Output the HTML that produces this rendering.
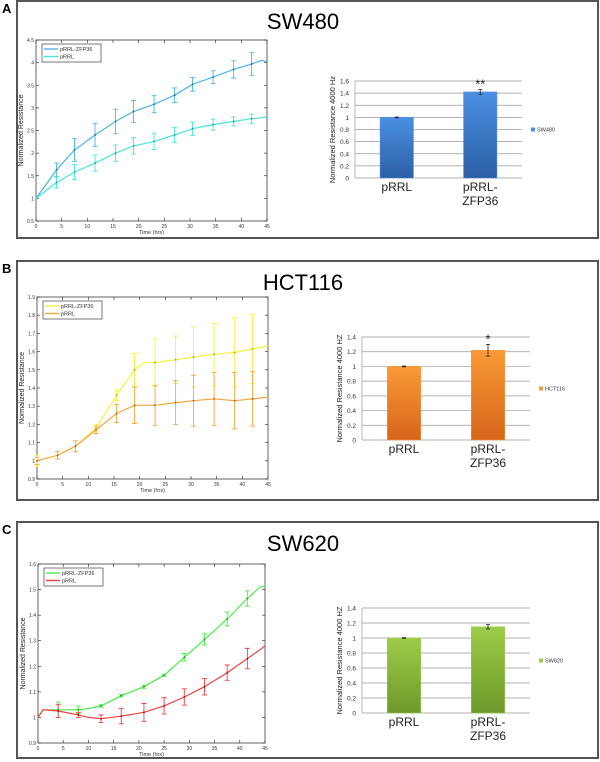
<!DOCTYPE html>
<html><head><meta charset="utf-8"><style>
html,body{margin:0;padding:0;background:#fff;}
svg{display:block;font-family:"Liberation Sans",Arial,sans-serif;}
</style></head><body>
<svg id="fig" width="600" height="762" viewBox="0 0 600 762" xmlns="http://www.w3.org/2000/svg"></svg>
<script>
// ---- Panel A data ----
const aTimes = [0,4,7.5,11.5,15.5,19,23,27,30.5,34.5,38.5,42,44,45];
const aZfp   = [1,1.63,2.07,2.4,2.7,2.92,3.08,3.28,3.52,3.68,3.85,3.97,4.05,4.02];
const aRrl   = [1,1.35,1.58,1.78,2.0,2.16,2.26,2.4,2.54,2.63,2.7,2.76,2.78,2.8];
const aErrT  = [4,7.5,11.5,15.5,19,23,27,30.5,34.5,38.5,42];
const aZfpErrV = [1.63,2.07,2.4,2.7,2.92,3.08,3.28,3.52,3.68,3.85,3.97];
const aZfpErr  = [0.15,0.25,0.25,0.27,0.24,0.19,0.16,0.15,0.14,0.19,0.25];
const aRrlErrV = [1.35,1.58,1.78,2.0,2.16,2.26,2.4,2.54,2.63,2.7,2.76];
const aRrlErr  = [0.12,0.17,0.18,0.18,0.18,0.18,0.17,0.15,0.12,0.1,0.1];
const aYTicks = [0.5,1,1.5,2,2.5,3,3.5,4,4.5];
// ---- Panel B data ----
const bTimes = [0,4,7.5,11.5,15.5,19,21,23,27,30.5,34.5,38.5,42,45];
const bZfp   = [1,1.03,1.08,1.18,1.36,1.5,1.54,1.54,1.555,1.57,1.585,1.595,1.615,1.63];
const bRrl   = [1,1.03,1.08,1.17,1.26,1.305,1.305,1.305,1.32,1.33,1.34,1.33,1.34,1.35];
const bErrT  = [0,4,7.5,11.5,15.5,19,23,27,30.5,34.5,38.5,42];
const bZfpErrV = [1,1.03,1.08,1.18,1.36,1.5,1.54,1.555,1.57,1.585,1.595,1.615];
const bZfpErr  = [0.03,0.02,0.03,0.02,0.03,0.09,0.13,0.13,0.165,0.17,0.19,0.19];
const bRrlErrV = [1,1.03,1.08,1.17,1.26,1.305,1.305,1.32,1.33,1.34,1.33,1.34];
const bRrlErr  = [0.02,0.02,0.03,0.02,0.05,0.1,0.11,0.12,0.14,0.145,0.155,0.15];
const bYTicks = [0.9,1,1.1,1.2,1.3,1.4,1.5,1.6,1.7,1.8,1.9];
// ---- Panel C data ----
const cTimes = [0,1,4,8,10,12.5,16.5,21,25,29,33,37.5,41.5,44,45];
const cZfp   = [1,1.03,1.03,1.03,1.035,1.045,1.085,1.12,1.165,1.235,1.305,1.385,1.465,1.51,1.515];
const cRrl   = [1,1.03,1.025,1.01,1.0,0.995,1.005,1.02,1.045,1.08,1.12,1.175,1.23,1.265,1.28];
const cErrT  = [4,8,12.5,16.5,21,25,29,33,37.5,41.5];
const cZfpErrV = [1.03,1.03,1.045,1.085,1.12,1.165,1.235,1.305,1.385,1.465];
const cZfpErr  = [0.03,0.015,0.005,0.005,0.006,0.004,0.015,0.022,0.027,0.03];
const cRrlErrV = [1.025,1.01,0.995,1.005,1.02,1.045,1.08,1.12,1.175,1.23];
const cRrlErr  = [0.025,0.01,0.015,0.03,0.035,0.032,0.032,0.032,0.03,0.04];
const cYTicks = [0.9,1,1.1,1.2,1.3,1.4,1.5,1.6];
const xTicks = [0,5,10,15,20,25,30,35,40,45];
// ---- Bar data ----
const barCats = ["pRRL","pRRL-ZFP36"];
const barA = [1.0,1.42]; const barAErr=[0.005,0.04];
const barB = [1.0,1.22]; const barBErr=[0.005,0.08];
const barC = [1.0,1.15]; const barCErr=[0.005,0.03];
const barATicks=[0,0.2,0.4,0.6,0.8,1,1.2,1.4,1.6];
const barBTicks=[0,0.2,0.4,0.6,0.8,1,1.2,1.4];

const NS="http://www.w3.org/2000/svg";
const svg=document.getElementById('fig');
function mk(tag,attrs,parent,text){const e=document.createElementNS(NS,tag);for(const k in attrs)e.setAttribute(k,attrs[k]);if(text!==undefined)e.textContent=text;(parent||svg).appendChild(e);return e;}

function panel(letter,y0,y1,title,ty){
  const g=mk('g',{});
  
  
  const r=mk('rect',{x:17,y:y0,width:581,height:y1-y0,fill:'#fff',stroke:'#555','stroke-width':2},g);
  
  
  const l=mk('text',{x:2,y:y0+12,'font-size':13,'font-weight':'bold'},g,letter);
  
  
  const t=mk('text',{x:303,y:ty,'font-size':22,'text-anchor':'middle'},g,title);
  
  
}

function lineChart(o){
  const g=mk('g',{});
  
  
  const ymin=o.ticks[0], ymax=o.ticks[o.ticks.length-1];
  const X=v=>o.x0+(v/45)*(o.x1-o.x0);
  const Y=v=>o.y1-(v-ymin)/(ymax-ymin)*(o.y1-o.y0);
  const ax=mk('rect',{x:o.x0,y:o.y0,width:o.x1-o.x0,height:o.y1-o.y0,fill:'#fff',stroke:'#222','stroke-width':0.7},g);
  
  
  o.ticks.forEach(v=>{
    mk('line',{x1:o.x0,x2:o.x0+3,y1:Y(v),y2:Y(v),stroke:'#222','stroke-width':0.6},g);
    mk('line',{x1:o.x1,x2:o.x1-3,y1:Y(v),y2:Y(v),stroke:'#222','stroke-width':0.6},g);
    const t=mk('text',{x:o.x0-2,y:Y(v)+2,'font-size':5,'text-anchor':'end',fill:'#333'},g,String(v));
    
    
  });
  xTicks.forEach(v=>{
    mk('line',{x1:X(v),x2:X(v),y1:o.y1,y2:o.y1-3,stroke:'#222','stroke-width':0.6},g);
    mk('line',{x1:X(v),x2:X(v),y1:o.y0,y2:o.y0+3,stroke:'#222','stroke-width':0.6},g);
    const t=mk('text',{x:X(v),y:o.y1+7,'font-size':5,'text-anchor':'middle',fill:'#333'},g,String(v));
    
    
  });
  const xt=mk('text',{x:(o.x0+o.x1)/2,y:o.y1+13,'font-size':5.5,'text-anchor':'middle',fill:'#333'},g,'Time (hrs)');
  
  
  const yx=o.x0-13, yy=(o.y0+o.y1)/2;
  const yt=mk('text',{x:yx,y:yy,'font-size':7,'text-anchor':'middle',fill:'#222',transform:`rotate(-90 ${yx} ${yy})`},g,'Normalized Resistance');
  
  
  o.series.forEach((s,si)=>{
    const d=o.times.map((t,i)=>(i?'L':'M')+X(t).toFixed(1)+' '+Y(s.vals[i]).toFixed(1)).join(' ');
    const p=mk('path',{d:d,fill:'none',stroke:s.color,'stroke-width':1.2},g);
    
    
    s.errT.forEach((t,i)=>{
      const x=X(t), yt1=Y(s.errV[i]+s.err[i]), yb=Y(s.errV[i]-s.err[i]);
      const e=mk('path',{d:`M${x} ${yt1}V${yb}M${x-2.5} ${yt1}H${x+2.5}M${x-2.5} ${yb}H${x+2.5}`,stroke:s.color,'stroke-width':0.9,fill:'none'},g);
      
      
      const dt=mk('circle',{cx:x,cy:Y(s.errV[i]),r:0.9,fill:s.dark},g);
      
      
    });
  });
  const lg=mk('g',{},g);
  
  
  const lx=o.x0+6, ly=o.y0+4;
  mk('rect',{x:lx,y:ly,width:59,height:18,fill:'#fff',stroke:'#222','stroke-width':0.6},lg);
  o.series.forEach((s,si)=>{
    const yy=ly+5+si*7.5;
    mk('line',{x1:lx+2,x2:lx+16,y1:yy,y2:yy,stroke:s.color,'stroke-width':1.4},lg);
    const t=mk('text',{x:lx+18,y:yy+2,'font-size':5.5,fill:'#333'},lg,s.label);
    
    
  });
}

function barChart(o){
  const g=mk('g',{});
  
  
  const ymax=o.ticks[o.ticks.length-1];
  const Y=v=>o.y1-v/ymax*(o.y1-o.y0);
  const gid='grad'+o.id;
  const defs=mk('defs',{},g);
  const lgd=mk('linearGradient',{id:gid,x1:0,y1:0,x2:0,y2:1},defs);
  mk('stop',{offset:0,'stop-color':o.c1},lgd);mk('stop',{offset:1,'stop-color':o.c2},lgd);
  o.ticks.forEach(v=>{
    const gl=mk('line',{x1:o.x0,x2:o.x1,y1:Y(v),y2:Y(v),stroke:'#999','stroke-width':0.7},g);
    
    
    const t=mk('text',{x:o.x0-6,y:Y(v)+2.5,'font-size':6.5,'text-anchor':'end',fill:'#333'},g,String(v));
    
    
  });
  mk('line',{x1:o.x0,x2:o.x0,y1:o.y0,y2:o.y1,stroke:'#999','stroke-width':0.7},g);
  const yx=o.x0-20, yy=(o.y0+o.y1)/2;
  const yt=mk('text',{x:yx,y:yy,'font-size':7.5,'text-anchor':'middle',fill:'#222',transform:`rotate(-90 ${yx} ${yy})`},g,o.ylabel);
  
  
  const slot=(o.x1-o.x0)/barCats.length, bw=slot*0.4;
  barCats.forEach((c,i)=>{
    const cx=o.x0+slot*(i+0.5);
    const b=mk('rect',{x:cx-bw/2,y:Y(o.vals[i]),width:bw,height:o.y1-Y(o.vals[i]),fill:`url(#${gid})`,stroke:o.c1,'stroke-width':0.5},g);
    
    
    const et=Y(o.vals[i]+o.err[i]), eb=Y(o.vals[i]-o.err[i]);
    const e=mk('path',{d:`M${cx} ${et}V${eb}M${cx-2} ${et}H${cx+2}M${cx-2} ${eb}H${cx+2}`,stroke:'#222','stroke-width':0.8,fill:'none'},g);
    
    
    const parts=c.includes('-')?[c.split('-')[0]+'-',c.split('-')[1]]:[c];
    parts.forEach((p,j)=>{
      const t=mk('text',{x:cx,y:o.y1+13+j*14,'font-size':12,'text-anchor':'middle',fill:'#222'},g,p);
      
      
    });
    if(o.stars[i]){
      const s=mk('text',{x:cx,y:et-1,'font-size':13,'text-anchor':'middle',fill:'#222'},g,o.stars[i]);
      
      
    }
  });
  const lx=o.x1+9, ly=(o.y0+o.y1)/2;
  mk('rect',{x:lx,y:ly-2,width:4,height:4,fill:o.c1},g);
  const t=mk('text',{x:lx+6,y:ly+2,'font-size':5.5,fill:'#333'},g,o.legend);
  
  
}

panel('A',1,238,'SW480',29);
panel('B',261,500,'HCT116',290);
panel('C',522,758,'SW620',551);

lineChart({id:'a',x0:36,x1:267,y0:40,y1:221,ticks:aYTicks,times:aTimes,series:[
 {name:'pRRL-ZFP36',label:'pRRL-ZFP36',vals:aZfp,errT:aErrT,errV:aZfpErrV,err:aZfpErr,color:'#4ab6e8',dark:'#1f6fa8'},
 {name:'pRRL',label:'pRRL',vals:aRrl,errT:aErrT,errV:aRrlErrV,err:aRrlErr,color:'#48e6dc',dark:'#1a9f98'}]});
lineChart({id:'b',x0:37,x1:268,y0:297,y1:479,ticks:bYTicks,times:bTimes,series:[
 {name:'pRRL-ZFP36',label:'pRRL-ZFP36',vals:bZfp,errT:bErrT,errV:bZfpErrV,err:bZfpErr,color:'#f8f040',dark:'#b0a020'},
 {name:'pRRL',label:'pRRL',vals:bRrl,errT:bErrT,errV:bRrlErrV,err:bRrlErr,color:'#f5a840',dark:'#b06010'}]});
lineChart({id:'c',x0:38,x1:265,y0:564,y1:743,ticks:cYTicks,times:cTimes,series:[
 {name:'pRRL-ZFP36',label:'pRRL-ZFP36',vals:cZfp,errT:cErrT,errV:cZfpErrV,err:cZfpErr,color:'#48ee48',dark:'#1a8f1a'},
 {name:'pRRL',label:'pRRL',vals:cRrl,errT:cErrT,errV:cRrlErrV,err:cRrlErr,color:'#f04040',dark:'#9a1010'}]});

barChart({id:'a',x0:355,x1:522,y0:81,y1:178,ticks:barATicks,vals:barA,err:barAErr,stars:['','**'],c1:'#4a90e2',c2:'#2c5fa6',legend:'SW480',ylabel:'Normalized Resistance 4000 Hz'});
barChart({id:'b',x0:362,x1:530,y0:337,y1:440,ticks:barBTicks,vals:barB,err:barBErr,stars:['','*'],c1:'#fa9a38',c2:'#d6651a',legend:'HCT116',ylabel:'Normalized Resistance 4000 HZ'});
barChart({id:'c',x0:362,x1:530,y0:608,y1:713,ticks:barBTicks,vals:barC,err:barCErr,stars:['',''],c1:'#9ccc48',c2:'#6c9a2a',legend:'SW620',ylabel:'Normalized Resistance 4000 HZ'});
</script>
</body></html>
